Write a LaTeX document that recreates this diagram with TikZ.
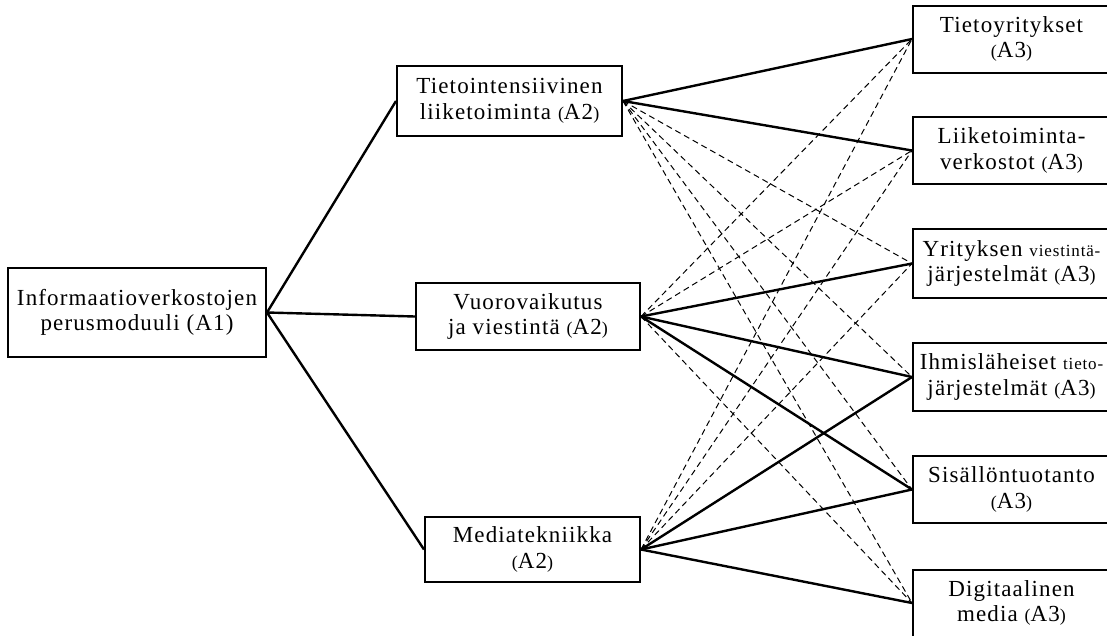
\documentclass[tikz,border=0pt]{standalone}
\usepackage{fontspec}
\setmainfont{Liberation Serif}[LetterSpace=5]
\usepackage{tikz}
\usetikzlibrary{positioning}
\newcommand{\smallpar}[1]{{\fontsize{18}{25}\selectfont(}#1{\fontsize{18}{25}\selectfont)}}
\newcommand{\smallword}[1]{{\fontsize{17}{25}\selectfont #1}}
\tikzset{
  box/.style={draw=black, fill=white, line width=2pt, align=center, inner sep=2pt,
              font=\fontsize{23}{25.5}\selectfont},
  leftbox/.style={box, minimum width=197, minimum height=67},
  link/.style={line width=2.4pt, draw=black},
  weak/.style={line width=1pt, draw=black, dash pattern=on 6pt off 4pt}
}

\begin{document}
\begin{tikzpicture}[x=1pt,y=-1pt]
        \fill[white] (0,0) rectangle (1107,635);
        \useasboundingbox (0,0) rectangle (1107,635);
        \clip (0,0) rectangle (1107,635);

        \node[box,minimum width=258,minimum height=89] (a1) at (137,312.5) {Informaatioverkostojen\\perusmoduuli (A1)};

        \node[box,minimum width=225,minimum height=70] (t) at (509.5,101) {Tietointensiivinen\\liiketoiminta \smallpar{A2}};
        \node[box,minimum width=224,minimum height=67] (v) at (528,316.5) {Vuorovaikutus\\ja viestintä \smallpar{A2}};
        \node[box,minimum width=215,minimum height=65] (m) at (532.5,549.5) {Mediatekniikka\\\smallpar{A2}};

        \node[leftbox] (r1) at (1011.5,39) {Tietoyritykset\\\smallpar{A3}};
        \node[leftbox] (r2) at (1011.5,150.5) {Liiketoiminta-\\verkostot \smallpar{A3}};
        \node[leftbox,minimum height=69] (r3) at (1011.5,263.5) {Yrityksen \smallword{viestintä-}\\järjestelmät \smallpar{A3}};
        \node[leftbox,minimum height=68] (r4) at (1011.5,377) {Ihmisläheiset \smallword{tieto-}\\järjestelmät \smallpar{A3}};
        \node[leftbox] (r5) at (1011.5,489.5) {Sisällöntuotanto\\\smallpar{A3}};
        \node[leftbox] (r6) at (1011.5,603) {Digitaalinen\\media \smallpar{A3}};

        \foreach \n in {t,v,m} {\draw[link] (a1.east) -- (\n.west);}
        \foreach \s/\e in {t/r1,t/r2,v/r3,v/r4,v/r5,m/r4,m/r5,m/r6} {\draw[link] (\s.east) -- (\e.west);}
        \foreach \s/\e in {t/r3,t/r4,t/r5,t/r6,v/r1,v/r2,v/r6,m/r1,m/r2,m/r3} {\draw[weak] (\s.east) -- (\e.west);}
      \end{tikzpicture}
\end{document}
